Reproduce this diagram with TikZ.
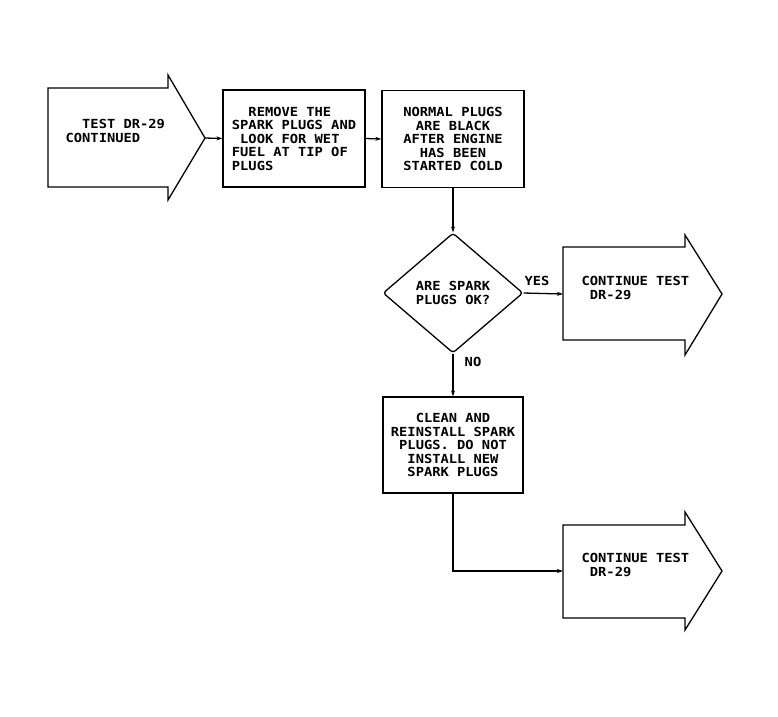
\documentclass[tikz,border=0pt]{standalone}
\usepackage{fontspec}
\newfontfamily\plotfont[FakeStretch=1.1]{DejaVu Sans Mono Bold}
\usetikzlibrary{arrows.meta,shapes.geometric}
\begin{document}
\begin{tikzpicture}[x=1pt,y=-1pt,line width=1.3pt,
  txt/.style={font=\plotfont\fontsize{12.5}{13.5}\selectfont, inner sep=0pt},
  procbox/.style={draw, rectangle, minimum width=142pt, minimum height=97pt, txt, align=center},
  decision/.style={draw, diamond, minimum width=140pt, minimum height=120pt, inner sep=0pt, txt, align=left, rounded corners=3pt},
  conn/.style={-{Stealth[length=6pt,width=4pt]}},
  bigarrow/.style={draw, line join=miter}]
\useasboundingbox (0,0) rectangle (778,716);

% left big arrow
\draw[bigarrow] (48,88) -- (168,88) -- (168,75) -- (205,138) -- (168,200) -- (168,187) -- (48,187) -- cycle;
\coordinate (a0tip) at (205,138);
\node[txt, align=left, anchor=west] (a0) at (65,131) {\phantom{XX}TEST DR-29\\CONTINUED};

% boxes
\node[procbox, align=left] (b1) at (294,138.5) {\phantom{XX}REMOVE THE\\SPARK PLUGS AND\\\phantom{X}LOOK FOR WET\\FUEL AT TIP OF\\PLUGS};
\node[procbox] (b2) at (453,139) {NORMAL PLUGS\\ARE BLACK\\AFTER ENGINE\\HAS BEEN\\STARTED COLD};

% decision
\node[decision] (d) at (453,293) {ARE SPARK\\PLUGS OK?};

% right big arrow (YES)
\draw[bigarrow] (563,247) -- (685,247) -- (685,235) -- (722,294) -- (685,355) -- (685,340) -- (563,340) -- cycle;
\coordinate (a2tail) at (563,294);
\node[txt, align=left, anchor=west] (a2) at (581,288) {CONTINUE TEST\\\phantom{X}DR-29};

% box 3
\node[procbox, minimum width=140pt, minimum height=96pt] (b3) at (453,445) {CLEAN AND\\REINSTALL SPARK\\PLUGS. DO NOT\\INSTALL NEW\\SPARK PLUGS};

% bottom big arrow
\draw[bigarrow] (563,525) -- (685,525) -- (685,512) -- (722,571) -- (685,630) -- (685,618) -- (563,618) -- cycle;
\coordinate (a3tail) at (563,571);
\node[txt, align=left, anchor=west] (a3) at (581,565) {CONTINUE TEST\\\phantom{X}DR-29};

% connectors
\draw[conn] (a0tip) -- (b1.west);
\draw[conn] (b1.east) -- (b2.west);
\draw[conn] (b2.south) -- (d.north);
\draw[conn] (d.east) -- (a2tail);
\node[txt] (yes) at (537,281) {YES};
\draw[conn] (d.south) -- (b3.north);
\node[txt] (no) at (473,362) {NO};
\draw[conn] (b3.south) |- (a3tail);
\end{tikzpicture}
\end{document}
